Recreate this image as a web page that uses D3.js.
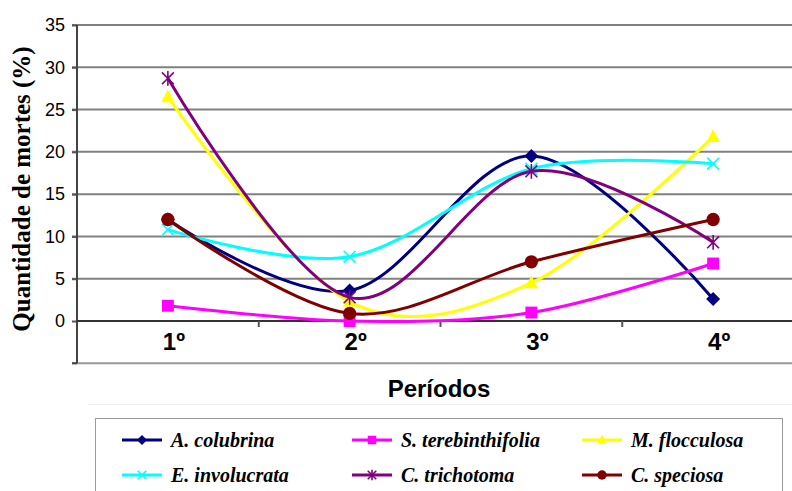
<!DOCTYPE html>
<html><head><meta charset="utf-8">
<script src="https://cdn.jsdelivr.net/npm/d3@7"></script>
<style>html,body{margin:0;padding:0;background:#fff;}svg{display:block;}</style>
</head><body>
<script>
const categories = ["1º", "2º", "3º", "4º"];
const yTicks = [0, 5, 10, 15, 20, 25, 30, 35];
const seriesNames = ["A. colubrina", "S. terebinthifolia", "M. flocculosa", "E. involucrata", "C. trichotoma", "C. speciosa"];
const colubrina = [12.0, 3.6, 19.5, 2.6];
const terebinthifolia = [1.8, 0.0, 1.0, 6.8];
const flocculosa = [26.5, 2.3, 4.5, 21.8];
const involucrata = [10.8, 7.6, 18.0, 18.6];
const trichotoma = [28.7, 2.8, 17.7, 9.3];
const speciosa = [12.0, 0.9, 7.0, 12.0];
const seriesValues = [colubrina, terebinthifolia, flocculosa, involucrata, trichotoma, speciosa];
const seriesColors = ["#000080", "#ff00ff", "#ffff00", "#00ffff", "#800080", "#800000"];
const seriesMarkers = ["diamond", "square", "triangle", "x", "star", "circle"];

const SERIF = "'Liberation Serif', 'Times New Roman', serif";
const SANS = "'Liberation Sans', Arial, sans-serif";

const W = 792, H = 491;
const svg = d3.select("body").append("svg").attr("width", W).attr("height", H);
svg.append("rect").attr("width", W).attr("height", H).attr("fill", "#fff");

const x = d3.scaleBand().domain(categories).range([77, 804]).padding(0);
const y = d3.scaleLinear().domain([-5, 35]).range([363.3, 25]);
const cx = c => x(c) + x.bandwidth() / 2;

// faint outer frame line
svg.append("line").attr("x1", 88).attr("x2", W).attr("y1", 404.5).attr("y2", 404.5)
  .attr("stroke", "#eeeeee").attr("stroke-width", 1);

// gridlines
const grid = svg.append("g");
grid.selectAll("line").data(yTicks.filter(d => d !== 0)).join("line")
  .attr("x1", 72).attr("x2", 804).attr("y1", d => y(d)).attr("y2", d => y(d))
  .attr("stroke", "#808080").attr("stroke-width", 2);
// bottom border at -5
svg.append("line").attr("x1", 72).attr("x2", 804).attr("y1", y(-5)).attr("y2", y(-5))
  .attr("stroke", "#9a9a9a").attr("stroke-width", 2);

// y axis
const yAxis = d3.axisLeft(y).tickValues(yTicks).tickSize(5).tickPadding(7);
const gy = svg.append("g").attr("transform", "translate(77,0)").call(yAxis);
gy.select(".domain").remove();
gy.selectAll(".tick line").attr("stroke", "#555").attr("stroke-width", 2);
gy.selectAll(".tick text").attr("font-family", SANS)
  .attr("font-size", 18).attr("fill", "#000");
svg.append("line").attr("x1", 77).attr("x2", 77).attr("y1", 25).attr("y2", y(-5))
  .attr("stroke", "#444").attr("stroke-width", 2);
svg.append("line").attr("x1", 72).attr("x2", 77).attr("y1", y(-5)).attr("y2", y(-5))
  .attr("stroke", "#444").attr("stroke-width", 2);

// x axis at 0
const xAxis = d3.axisBottom(x).tickSize(0).tickPadding(0);
const gx = svg.append("g").attr("transform", `translate(0,${y(0)})`).call(xAxis);
gx.select(".domain").remove();
gx.selectAll(".tick line").remove();
gx.selectAll(".tick text").attr("font-family", SANS)
  .attr("font-size", 24).attr("font-weight", "bold").attr("fill", "#000")
  .attr("dy", 0).attr("y", 29).attr("dx", 6);
svg.append("line").attr("x1", 77).attr("x2", 804).attr("y1", y(0)).attr("y2", y(0))
  .attr("stroke", "#333").attr("stroke-width", 2);
const boundaries = categories.map(c => x(c)).concat([x(categories[categories.length - 1]) + x.bandwidth()]);
svg.append("g").selectAll("line").data(boundaries.slice(1)).join("line")
  .attr("x1", d => d).attr("x2", d => d).attr("y1", y(0)).attr("y2", y(0) + 6)
  .attr("stroke", "#555").attr("stroke-width", 2);

// axis titles
svg.append("text").attr("transform", "translate(30,189) rotate(-90)")
  .attr("text-anchor", "middle").attr("font-family", SERIF)
  .attr("font-weight", "bold").attr("font-size", 25).attr("fill", "#000")
  .text("Quantidade de mortes (%)");
svg.append("text").attr("x", 439).attr("y", 397).attr("text-anchor", "middle")
  .attr("font-family", SANS).attr("font-weight", "bold")
  .attr("font-size", 24).attr("fill", "#000").text("Períodos");

// marker drawing
function drawMarker(g, type, color, px, py, s) {
  if (type === "diamond") {
    g.append("path").attr("d", `M${px},${py - s}L${px + s},${py}L${px},${py + s}L${px - s},${py}Z`).attr("fill", color);
  } else if (type === "square") {
    g.append("rect").attr("x", px - s * 0.85).attr("y", py - s * 0.85).attr("width", s * 1.7).attr("height", s * 1.7).attr("fill", color);
  } else if (type === "triangle") {
    g.append("path").attr("d", `M${px},${py - s * 1.05}L${px + s * 0.95},${py + s * 0.75}L${px - s * 0.95},${py + s * 0.75}Z`).attr("fill", color);
  } else if (type === "x") {
    const d = s * 0.85;
    g.append("path").attr("d", `M${px - d},${py - d}L${px + d},${py + d}M${px - d},${py + d}L${px + d},${py - d}`)
      .attr("stroke", color).attr("stroke-width", 1.6).attr("fill", "none");
  } else if (type === "star") {
    const d = s * 0.85;
    g.append("path").attr("d", `M${px - d},${py - d}L${px + d},${py + d}M${px - d},${py + d}L${px + d},${py - d}M${px},${py - s * 1.05}L${px},${py + s * 1.05}`)
      .attr("stroke", color).attr("stroke-width", 1.6).attr("fill", "none");
  } else if (type === "circle") {
    g.append("circle").attr("cx", px).attr("cy", py).attr("r", s * 0.95).attr("fill", color);
  }
}

// series
const line = d3.line().x((d, i) => cx(categories[i])).y(d => y(d)).curve(d3.curveCardinal.tension(0));
const plot = svg.append("g");
seriesValues.forEach((vals, si) => {
  const g = plot.append("g");
  g.append("path").datum(vals).attr("d", line).attr("fill", "none")
    .attr("stroke", seriesColors[si]).attr("stroke-width", 3);
  vals.forEach((v, i) => drawMarker(g, seriesMarkers[si], seriesColors[si], cx(categories[i]), y(v), 7));
});

// legend
const lg = svg.append("g");
lg.append("rect").attr("x", 95.5).attr("y", 418.5).attr("width", 687).attr("height", 100)
  .attr("fill", "#fff").attr("stroke", "#9a9a9a").attr("stroke-width", 1);
const colX = [122, 352, 582];
const rowY = [440, 475];
seriesNames.forEach((name, i) => {
  const col = i % 3, row = Math.floor(i / 3);
  const lx = colX[col], ly = rowY[row];
  const item = lg.append("g");
  item.append("line").attr("x1", lx).attr("x2", lx + 40).attr("y1", ly).attr("y2", ly)
    .attr("stroke", seriesColors[i]).attr("stroke-width", 3);
  drawMarker(item, seriesMarkers[i], seriesColors[i], lx + 20, ly, 5);
  item.append("text").attr("x", lx + 49).attr("y", ly + 7)
    .attr("font-family", SERIF).attr("font-style", "italic")
    .attr("font-weight", "bold").attr("font-size", 20).attr("fill", "#000").text(name);
});
</script>
</body></html>
